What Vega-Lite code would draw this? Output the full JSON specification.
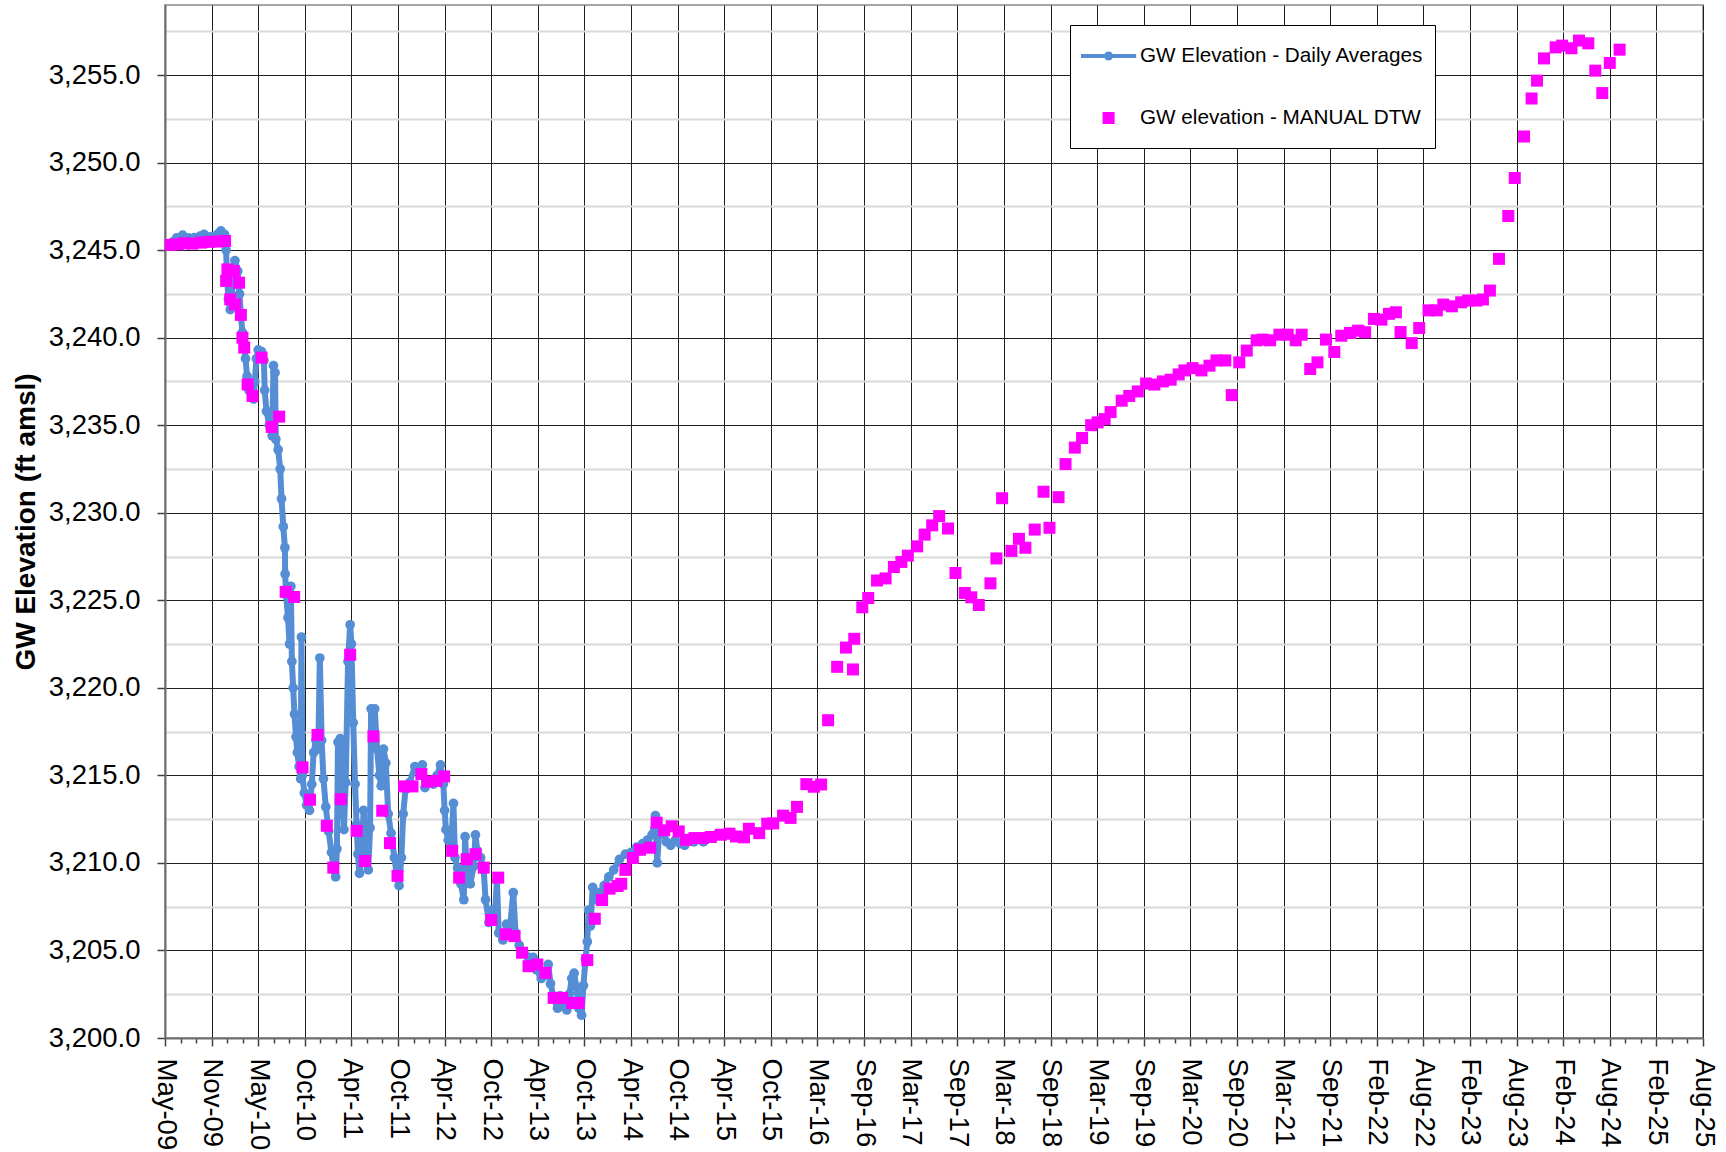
{
  "$schema": "https://vega.github.io/schema/vega-lite/v6.json",
  "width": 1538,
  "height": 1033,
  "autosize": {"type": "none"},
  "padding": {"left": 165, "top": 5, "right": 23, "bottom": 114},
  "background": "#ffffff",
  "config": {
    "font": "Liberation Sans",
    "view": {"stroke": "#a6a6a6", "strokeWidth": 2}
  },
  "datasets": {
    "daily": [
      {"date":"2009-05-25","elev":3245.35},{"date":"2009-06-05","elev":3245.45},{"date":"2009-06-21","elev":3245.7},{"date":"2009-07-14","elev":3245.85},{"date":"2009-08-05","elev":3245.7},{"date":"2009-08-28","elev":3245.71},{"date":"2009-09-19","elev":3245.8},{"date":"2009-10-05","elev":3245.9},{"date":"2009-10-25","elev":3245.75},{"date":"2009-11-14","elev":3245.8},{"date":"2009-11-30","elev":3245.95},{"date":"2009-12-09","elev":3246.1},{"date":"2009-12-23","elev":3245.9},{"date":"2009-12-29","elev":3245.0},
      {"date":"2010-01-01","elev":3243.5},{"date":"2010-01-07","elev":3242.2},{"date":"2010-01-14","elev":3241.6},{"date":"2010-01-23","elev":3243.0},{"date":"2010-02-01","elev":3244.4},{"date":"2010-02-12","elev":3243.8},{"date":"2010-02-19","elev":3242.5},{"date":"2010-02-24","elev":3241.3},{"date":"2010-03-02","elev":3240.3},{"date":"2010-03-09","elev":3239.5},{"date":"2010-03-14","elev":3238.8},{"date":"2010-03-20","elev":3237.8},{"date":"2010-03-27","elev":3237.0},{"date":"2010-04-07","elev":3236.6},{"date":"2010-04-14","elev":3236.5},{"date":"2010-04-19","elev":3237.5},{"date":"2010-04-25","elev":3238.8},{"date":"2010-05-02","elev":3239.3},{"date":"2010-05-15","elev":3239.2},{"date":"2010-05-24","elev":3238.7},{"date":"2010-05-27","elev":3237.0},{"date":"2010-06-03","elev":3235.8},{"date":"2010-06-14","elev":3235.0},{"date":"2010-06-25","elev":3234.4},{"date":"2010-06-30","elev":3238.4},{"date":"2010-07-06","elev":3238.0},{"date":"2010-07-09","elev":3234.2},{"date":"2010-07-18","elev":3233.6},{"date":"2010-07-26","elev":3232.5},{"date":"2010-07-31","elev":3230.8},{"date":"2010-08-07","elev":3229.2},{"date":"2010-08-13","elev":3228.0},{"date":"2010-08-14","elev":3226.5},{"date":"2010-08-18","elev":3225.3},{"date":"2010-08-25","elev":3224.0},{"date":"2010-08-31","elev":3222.5},{"date":"2010-09-05","elev":3225.8},{"date":"2010-09-09","elev":3221.5},{"date":"2010-09-14","elev":3220.0},{"date":"2010-09-19","elev":3218.5},{"date":"2010-09-25","elev":3217.2},{"date":"2010-09-30","elev":3216.3},{"date":"2010-10-07","elev":3215.5},{"date":"2010-10-13","elev":3214.8},{"date":"2010-10-16","elev":3222.9},{"date":"2010-10-20","elev":3215.0},{"date":"2010-10-27","elev":3214.0},{"date":"2010-11-05","elev":3213.3},{"date":"2010-11-16","elev":3213.0},{"date":"2010-11-25","elev":3214.5},{"date":"2010-12-02","elev":3216.3},{"date":"2010-12-11","elev":3217.0},{"date":"2010-12-20","elev":3216.5},{"date":"2010-12-26","elev":3221.7},
      {"date":"2011-01-02","elev":3217.0},{"date":"2011-01-09","elev":3214.8},{"date":"2011-01-18","elev":3213.2},{"date":"2011-01-29","elev":3211.8},{"date":"2011-02-09","elev":3210.6},{"date":"2011-02-18","elev":3209.6},{"date":"2011-02-25","elev":3209.2},{"date":"2011-03-02","elev":3210.8},{"date":"2011-03-06","elev":3216.9},{"date":"2011-03-15","elev":3217.1},{"date":"2011-03-22","elev":3213.8},{"date":"2011-03-29","elev":3211.9},{"date":"2011-04-05","elev":3214.6},{"date":"2011-04-14","elev":3221.5},{"date":"2011-04-22","elev":3223.6},{"date":"2011-04-27","elev":3222.5},{"date":"2011-05-04","elev":3218.0},{"date":"2011-05-11","elev":3214.5},{"date":"2011-05-17","elev":3212.2},{"date":"2011-05-22","elev":3210.5},{"date":"2011-05-28","elev":3209.4},{"date":"2011-06-06","elev":3210.5},{"date":"2011-06-13","elev":3213.0},{"date":"2011-06-20","elev":3211.6},{"date":"2011-07-01","elev":3209.6},{"date":"2011-07-08","elev":3212.0},{"date":"2011-07-12","elev":3218.8},{"date":"2011-07-26","elev":3218.8},{"date":"2011-08-04","elev":3216.5},{"date":"2011-08-13","elev":3215.0},{"date":"2011-08-20","elev":3214.4},{"date":"2011-08-29","elev":3216.5},{"date":"2011-09-07","elev":3215.7},{"date":"2011-09-16","elev":3212.8},{"date":"2011-09-27","elev":3211.7},{"date":"2011-10-10","elev":3210.3},{"date":"2011-10-20","elev":3209.2},{"date":"2011-10-28","elev":3208.7},{"date":"2011-11-06","elev":3210.3},{"date":"2011-11-13","elev":3212.8},{"date":"2011-11-22","elev":3214.2},{"date":"2011-12-08","elev":3214.6},{"date":"2011-12-28","elev":3215.5},
      {"date":"2012-01-13","elev":3215.4},{"date":"2012-01-26","elev":3215.6},{"date":"2012-02-05","elev":3214.3},{"date":"2012-02-20","elev":3214.6},{"date":"2012-03-09","elev":3214.5},{"date":"2012-03-23","elev":3215.0},{"date":"2012-04-05","elev":3215.6},{"date":"2012-04-16","elev":3214.5},{"date":"2012-04-21","elev":3213.0},{"date":"2012-04-26","elev":3211.9},{"date":"2012-05-05","elev":3211.3},{"date":"2012-05-16","elev":3210.9},{"date":"2012-05-25","elev":3213.4},{"date":"2012-05-31","elev":3210.3},{"date":"2012-06-10","elev":3209.7},{"date":"2012-06-23","elev":3208.8},{"date":"2012-07-04","elev":3207.9},{"date":"2012-07-09","elev":3211.5},{"date":"2012-07-16","elev":3209.5},{"date":"2012-07-29","elev":3208.8},{"date":"2012-08-11","elev":3209.8},{"date":"2012-08-18","elev":3211.6},{"date":"2012-08-25","elev":3210.7},{"date":"2012-09-07","elev":3210.3},{"date":"2012-09-19","elev":3209.6},{"date":"2012-09-26","elev":3207.9},{"date":"2012-10-09","elev":3206.6},{"date":"2012-10-22","elev":3207.3},{"date":"2012-11-01","elev":3207.0},{"date":"2012-11-09","elev":3209.0},{"date":"2012-11-16","elev":3206.0},{"date":"2012-12-02","elev":3205.6},{"date":"2012-12-16","elev":3206.5},{"date":"2012-12-29","elev":3206.2},
      {"date":"2013-01-11","elev":3208.3},{"date":"2013-01-20","elev":3206.0},{"date":"2013-02-03","elev":3205.3},{"date":"2013-02-21","elev":3204.9},{"date":"2013-03-11","elev":3204.6},{"date":"2013-03-29","elev":3204.6},{"date":"2013-04-11","elev":3203.9},{"date":"2013-04-29","elev":3203.4},{"date":"2013-05-17","elev":3203.6},{"date":"2013-05-26","elev":3204.2},{"date":"2013-06-04","elev":3203.1},{"date":"2013-06-16","elev":3202.3},{"date":"2013-07-01","elev":3201.7},{"date":"2013-07-11","elev":3202.4},{"date":"2013-07-24","elev":3201.8},{"date":"2013-08-06","elev":3201.6},{"date":"2013-08-16","elev":3202.5},{"date":"2013-08-25","elev":3203.4},{"date":"2013-09-03","elev":3203.7},{"date":"2013-09-12","elev":3202.9},{"date":"2013-09-21","elev":3201.7},{"date":"2013-10-02","elev":3201.3},{"date":"2013-10-09","elev":3203.0},{"date":"2013-10-17","elev":3204.5},{"date":"2013-10-24","elev":3205.5},{"date":"2013-10-29","elev":3207.3},{"date":"2013-11-05","elev":3206.4},{"date":"2013-11-14","elev":3208.6},{"date":"2013-11-27","elev":3207.9},{"date":"2013-12-11","elev":3208.3},{"date":"2013-12-28","elev":3208.7},
      {"date":"2014-01-15","elev":3209.2},{"date":"2014-02-03","elev":3209.6},{"date":"2014-02-25","elev":3210.2},{"date":"2014-03-20","elev":3210.5},{"date":"2014-04-11","elev":3210.6},{"date":"2014-05-03","elev":3210.9},{"date":"2014-05-26","elev":3211.1},{"date":"2014-06-13","elev":3211.3},{"date":"2014-07-01","elev":3211.6},{"date":"2014-07-14","elev":3212.7},{"date":"2014-07-21","elev":3210.0},{"date":"2014-07-28","elev":3211.6},{"date":"2014-08-11","elev":3211.9},{"date":"2014-08-26","elev":3211.2},{"date":"2014-09-11","elev":3211.0},{"date":"2014-09-29","elev":3211.3},{"date":"2014-10-17","elev":3211.1},{"date":"2014-11-04","elev":3211.0},{"date":"2014-11-22","elev":3211.3},{"date":"2014-12-10","elev":3211.2},{"date":"2014-12-28","elev":3211.4},{"date":"2015-01-15","elev":3211.2},{"date":"2015-02-02","elev":3211.5},{"date":"2015-02-20","elev":3211.4},{"date":"2015-03-06","elev":3211.6}
    ],
    "manual": [
      {"date":"2009-05-29","elev":3245.3},{"date":"2009-06-25","elev":3245.33},{"date":"2009-07-20","elev":3245.39},{"date":"2009-08-21","elev":3245.37},{"date":"2009-09-23","elev":3245.43},{"date":"2009-10-25","elev":3245.47},{"date":"2009-11-26","elev":3245.49},{"date":"2009-12-25","elev":3245.52},{"date":"2009-12-29","elev":3243.24},
      {"date":"2010-01-03","elev":3243.9},{"date":"2010-01-14","elev":3242.19},{"date":"2010-01-28","elev":3243.81},{"date":"2010-02-01","elev":3241.9},{"date":"2010-02-17","elev":3243.14},{"date":"2010-02-24","elev":3241.3},{"date":"2010-03-02","elev":3240.0},{"date":"2010-03-09","elev":3239.43},{"date":"2010-03-22","elev":3237.33},{"date":"2010-04-10","elev":3236.67},{"date":"2010-05-15","elev":3238.86},{"date":"2010-06-23","elev":3234.9},{"date":"2010-07-22","elev":3235.49},{"date":"2010-08-16","elev":3225.48},{"date":"2010-09-18","elev":3225.19},{"date":"2010-10-20","elev":3215.46},{"date":"2010-11-18","elev":3213.61},{"date":"2010-12-17","elev":3217.31},
      {"date":"2011-01-22","elev":3212.12},{"date":"2011-02-16","elev":3209.73},{"date":"2011-03-17","elev":3213.64},{"date":"2011-04-22","elev":3221.89},{"date":"2011-05-17","elev":3211.83},{"date":"2011-06-18","elev":3210.11},{"date":"2011-07-21","elev":3217.23},{"date":"2011-08-24","elev":3212.98},{"date":"2011-09-23","elev":3211.13},{"date":"2011-10-22","elev":3209.26},{"date":"2011-11-16","elev":3214.37},{"date":"2011-12-19","elev":3214.37},
      {"date":"2012-01-22","elev":3215.08},{"date":"2012-02-14","elev":3214.64},{"date":"2012-03-21","elev":3214.69},{"date":"2012-04-19","elev":3214.94},{"date":"2012-05-20","elev":3210.69},{"date":"2012-06-16","elev":3209.16},{"date":"2012-07-15","elev":3210.21},{"date":"2012-08-18","elev":3210.5},{"date":"2012-09-19","elev":3209.73},{"date":"2012-10-18","elev":3206.74},{"date":"2012-11-14","elev":3209.16},{"date":"2012-12-13","elev":3205.92},
      {"date":"2013-01-16","elev":3205.82},{"date":"2013-02-14","elev":3204.87},{"date":"2013-03-11","elev":3204.1},{"date":"2013-04-14","elev":3204.2},{"date":"2013-05-15","elev":3203.72},{"date":"2013-06-16","elev":3202.29},{"date":"2013-07-19","elev":3202.29},{"date":"2013-08-27","elev":3202.0},{"date":"2013-09-21","elev":3202.0},{"date":"2013-10-24","elev":3204.45},{"date":"2013-11-22","elev":3206.81},{"date":"2013-12-20","elev":3207.88},
      {"date":"2014-01-18","elev":3208.53},{"date":"2014-02-18","elev":3208.68},{"date":"2014-03-04","elev":3208.81},{"date":"2014-03-20","elev":3209.6},{"date":"2014-04-18","elev":3210.28},{"date":"2014-05-15","elev":3210.75},{"date":"2014-06-24","elev":3210.87},{"date":"2014-07-19","elev":3212.3},{"date":"2014-08-17","elev":3211.86},{"date":"2014-09-15","elev":3212.09},{"date":"2014-10-12","elev":3211.8},{"date":"2014-11-09","elev":3211.32},{"date":"2014-12-12","elev":3211.42},
      {"date":"2015-01-13","elev":3211.42},{"date":"2015-02-13","elev":3211.48},{"date":"2015-03-24","elev":3211.61},{"date":"2015-04-26","elev":3211.67},{"date":"2015-05-21","elev":3211.51},{"date":"2015-06-21","elev":3211.46},{"date":"2015-07-10","elev":3211.95},{"date":"2015-08-19","elev":3211.7},{"date":"2015-09-19","elev":3212.24},{"date":"2015-10-12","elev":3212.26},{"date":"2015-11-19","elev":3212.7},{"date":"2015-12-18","elev":3212.57},
      {"date":"2016-01-12","elev":3213.2},{"date":"2016-02-17","elev":3214.5},{"date":"2016-03-17","elev":3214.35},{"date":"2016-04-14","elev":3214.48},{"date":"2016-05-11","elev":3218.15},{"date":"2016-06-15","elev":3221.2},{"date":"2016-07-19","elev":3222.3},{"date":"2016-08-15","elev":3221.05},{"date":"2016-08-20","elev":3222.8},{"date":"2016-09-20","elev":3224.6},{"date":"2016-10-13","elev":3225.13},{"date":"2016-11-16","elev":3226.13},{"date":"2016-12-19","elev":3226.25},
      {"date":"2017-01-20","elev":3226.9},{"date":"2017-02-18","elev":3227.19},{"date":"2017-03-15","elev":3227.55},{"date":"2017-04-20","elev":3228.08},{"date":"2017-05-19","elev":3228.75},{"date":"2017-06-17","elev":3229.28},{"date":"2017-07-14","elev":3229.81},{"date":"2017-08-17","elev":3229.1},{"date":"2017-09-15","elev":3226.56},{"date":"2017-10-21","elev":3225.42},{"date":"2017-11-15","elev":3225.17},{"date":"2017-12-14","elev":3224.73},
      {"date":"2018-01-28","elev":3225.97},{"date":"2018-02-20","elev":3227.39},{"date":"2018-03-14","elev":3230.83},{"date":"2018-04-19","elev":3227.82},{"date":"2018-05-18","elev":3228.51},{"date":"2018-06-12","elev":3228.0},{"date":"2018-07-18","elev":3229.04},{"date":"2018-08-21","elev":3231.2},{"date":"2018-09-13","elev":3229.14},{"date":"2018-10-18","elev":3230.89},{"date":"2018-11-14","elev":3232.78},{"date":"2018-12-20","elev":3233.72},
      {"date":"2019-01-17","elev":3234.27},{"date":"2019-02-21","elev":3235.0},{"date":"2019-03-18","elev":3235.16},{"date":"2019-04-14","elev":3235.35},{"date":"2019-05-07","elev":3235.75},{"date":"2019-06-19","elev":3236.4},{"date":"2019-07-18","elev":3236.67},{"date":"2019-08-20","elev":3236.93},{"date":"2019-09-21","elev":3237.38},{"date":"2019-10-23","elev":3237.32},{"date":"2019-11-25","elev":3237.5},{"date":"2019-12-25","elev":3237.6},
      {"date":"2020-01-25","elev":3237.9},{"date":"2020-02-16","elev":3238.13},{"date":"2020-03-19","elev":3238.26},{"date":"2020-04-22","elev":3238.13},{"date":"2020-05-23","elev":3238.4},{"date":"2020-06-19","elev":3238.7},{"date":"2020-07-23","elev":3238.7},{"date":"2020-08-17","elev":3236.72},{"date":"2020-09-15","elev":3238.59},{"date":"2020-10-14","elev":3239.26},{"date":"2020-11-21","elev":3239.85},{"date":"2020-12-14","elev":3239.89},
      {"date":"2021-01-12","elev":3239.85},{"date":"2021-02-17","elev":3240.17},{"date":"2021-03-21","elev":3240.17},{"date":"2021-04-21","elev":3239.85},{"date":"2021-05-14","elev":3240.17},{"date":"2021-06-16","elev":3238.21},{"date":"2021-07-14","elev":3238.59},{"date":"2021-08-16","elev":3239.89},{"date":"2021-09-17","elev":3239.18},{"date":"2021-10-14","elev":3240.11},{"date":"2021-11-17","elev":3240.27},{"date":"2021-12-18","elev":3240.4},
      {"date":"2022-01-14","elev":3240.31},{"date":"2022-02-17","elev":3241.07},{"date":"2022-03-18","elev":3241.03},{"date":"2022-04-16","elev":3241.36},{"date":"2022-05-13","elev":3241.45},{"date":"2022-05-31","elev":3240.32},{"date":"2022-07-13","elev":3239.69},{"date":"2022-08-11","elev":3240.55},{"date":"2022-09-16","elev":3241.56},{"date":"2022-10-18","elev":3241.56},{"date":"2022-11-12","elev":3241.89},{"date":"2022-12-15","elev":3241.79},
      {"date":"2023-01-20","elev":3242.02},{"date":"2023-02-16","elev":3242.12},{"date":"2023-03-20","elev":3242.12},{"date":"2023-04-14","elev":3242.18},{"date":"2023-05-11","elev":3242.69},{"date":"2023-06-15","elev":3244.5},{"date":"2023-07-21","elev":3246.95},{"date":"2023-08-15","elev":3249.12},{"date":"2023-09-20","elev":3251.49},{"date":"2023-10-19","elev":3253.66},{"date":"2023-11-09","elev":3254.68},{"date":"2023-12-06","elev":3255.95},
      {"date":"2024-01-20","elev":3256.58},{"date":"2024-02-14","elev":3256.68},{"date":"2024-03-21","elev":3256.53},{"date":"2024-04-19","elev":3256.97},{"date":"2024-05-25","elev":3256.81},{"date":"2024-06-21","elev":3255.25},{"date":"2024-07-18","elev":3253.97},{"date":"2024-08-16","elev":3255.69},{"date":"2024-09-23","elev":3256.45}
    ]
  },
  "encoding": {
    "x": {
      "field": "date",
      "type": "temporal",
      "scale": {"type": "utc", "domain": [1241654400000, 1754870400000], "nice": false},
      "axis": {
        "title": null,
        "values": [1241654400000,1246838400000,1252022400000,1257206400000,1262390400000,1267574400000,1272758400000,1277942400000,1283126400000,1288310400000,1293494400000,1298678400000,1303862400000,1309046400000,1314230400000,1319414400000,1324598400000,1329782400000,1334966400000,1340150400000,1345334400000,1350518400000,1355702400000,1360886400000,1366070400000,1371254400000,1376438400000,1381622400000,1386806400000,1391990400000,1397174400000,1402358400000,1407542400000,1412726400000,1417910400000,1423094400000,1428278400000,1433462400000,1438646400000,1443830400000,1449014400000,1454198400000,1459382400000,1464566400000,1469750400000,1474934400000,1480118400000,1485302400000,1490486400000,1495670400000,1500854400000,1506038400000,1511222400000,1516406400000,1521590400000,1526774400000,1531958400000,1537142400000,1542326400000,1547510400000,1552694400000,1557878400000,1563062400000,1568246400000,1573430400000,1578614400000,1583798400000,1588982400000,1594166400000,1599350400000,1604534400000,1609718400000,1614902400000,1620086400000,1625270400000,1630454400000,1635638400000,1640822400000,1646006400000,1651190400000,1656374400000,1661558400000,1666742400000,1671926400000,1677110400000,1682294400000,1687478400000,1692662400000,1697846400000,1703030400000,1708214400000,1713398400000,1718582400000,1723766400000,1728950400000,1734134400000,1739318400000,1744502400000,1749686400000,1754870400000],
        "labelExpr": "(round((datum.value - 1241654400000) / 86400000) % 180) === 0 ? utcFormat(datum.value, '%b-%y') : ''",
        "labelAngle": 90,
        "labelAlign": "left",
        "labelBaseline": "middle",
        "labelFont": "Liberation Sans",
        "labelFontSize": 27.5,
        "labelColor": "#000000",
        "labelPadding": 12,
        "labelOverlap": false,
        "labelFlush": false,
        "labelBound": false,
        "tickSize": {"condition": {"test": "(round((datum.value - 1241654400000) / 86400000) % 180) === 0", "value": 8}, "value": 5},
        "tickColor": "#404040",
        "tickWidth": 1.5,
        "grid": true,
        "gridColor": "#1f1f1f",
        "gridWidth": 1,
        "gridOpacity": {"condition": {"test": "(round((datum.value - 1241654400000) / 86400000) % 180) === 0", "value": 1}, "value": 0},
        "domainColor": "#6e6e6e",
        "domainWidth": 2
      }
    },
    "y": {
      "field": "elev",
      "type": "quantitative",
      "scale": {"domain": [3200, 3259], "nice": false, "zero": false},
      "axis": {
        "title": "GW Elevation (ft amsl)",
        "titleFont": "Liberation Sans",
        "titleFontSize": 28,
        "titleFontWeight": "bold",
        "titleColor": "#000000",
        "titlePadding": 8,
        "values": [3200,3202.5,3205,3207.5,3210,3212.5,3215,3217.5,3220,3222.5,3225,3227.5,3230,3232.5,3235,3237.5,3240,3242.5,3245,3247.5,3250,3252.5,3255,3257.5],
        "labelExpr": "datum.value % 5 === 0 ? format(datum.value, ',.1f') : ''",
        "labelFont": "Liberation Sans",
        "labelFontSize": 27.5,
        "labelColor": "#000000",
        "labelPadding": 17,
        "labelOverlap": false,
        "labelFlush": false,
        "labelBound": false,
        "tickSize": 8,
        "tickColor": "#404040",
        "tickWidth": 1.5,
        "tickOpacity": {"condition": {"test": "datum.value % 5 === 0", "value": 1}, "value": 0},
        "grid": true,
        "gridColor": {"condition": {"test": "datum.value % 5 === 0", "value": "#1f1f1f"}, "value": "#d9d9d9"},
        "gridWidth": {"condition": {"test": "datum.value % 5 === 0", "value": 1}, "value": 2},
        "domainColor": "#6e6e6e",
        "domainWidth": 2
      }
    }
  },
  "layer": [
    {
      "data": {"name": "daily"},
      "mark": {"type": "line", "color": "#558ed5", "strokeWidth": 6, "strokeJoin": "round", "strokeCap": "round"},
      "encoding": {}
    },
    {
      "data": {"name": "daily"},
      "mark": {"type": "point", "shape": "circle", "filled": true, "color": "#558ed5", "size": 95, "opacity": 1},
      "encoding": {}
    },
    {
      "data": {"name": "manual"},
      "mark": {"type": "point", "filled": true, "size": 1600, "opacity": 1, "strokeWidth": 0},
      "encoding": {
        "color": {
          "datum": "GW elevation - MANUAL DTW",
          "type": "nominal",
          "scale": {"domain": ["GW Elevation - Daily Averages", "GW elevation - MANUAL DTW"], "range": ["#558ed5", "#ff00ff"]},
          "legend": {"title": " ", "titleOrient": "bottom", "titleFontSize": 1, "titlePadding": 8, "orient": "none", "legendX": 905, "legendY": 20, "symbolSize": 1600, "symbolOffset": 7.6, "symbolStrokeWidth": 0, "symbolOpacity": 1, "labelFont": "Liberation Sans", "labelFontSize": 20.7, "labelColor": "#000000", "labelOffset": 11.4, "labelLimit": 500, "padding": 11, "rowPadding": 32, "fillColor": "#ffffff", "strokeColor": "#000000", "cornerRadius": 0}
        },
        "shape": {
          "datum": "GW elevation - MANUAL DTW",
          "type": "nominal",
          "scale": {"domain": ["GW Elevation - Daily Averages", "GW elevation - MANUAL DTW"], "range": ["M-1.38,-0.1H1.38V0.1H-1.38Z M0.225,0A0.225,0.225,0,1,1,-0.225,0A0.225,0.225,0,1,1,0.225,0Z", "M-0.3,-0.3H0.3V0.3H-0.3Z"]},
          "legend": {"title": " ", "titleOrient": "bottom", "titleFontSize": 1, "titlePadding": 8, "orient": "none", "legendX": 905, "legendY": 20, "symbolSize": 1600, "symbolOffset": 7.6, "symbolStrokeWidth": 0, "symbolOpacity": 1, "labelFont": "Liberation Sans", "labelFontSize": 20.7, "labelColor": "#000000", "labelOffset": 11.4, "labelLimit": 500, "padding": 11, "rowPadding": 32, "fillColor": "#ffffff", "strokeColor": "#000000", "cornerRadius": 0}
        }
      }
    }
  ]
}
